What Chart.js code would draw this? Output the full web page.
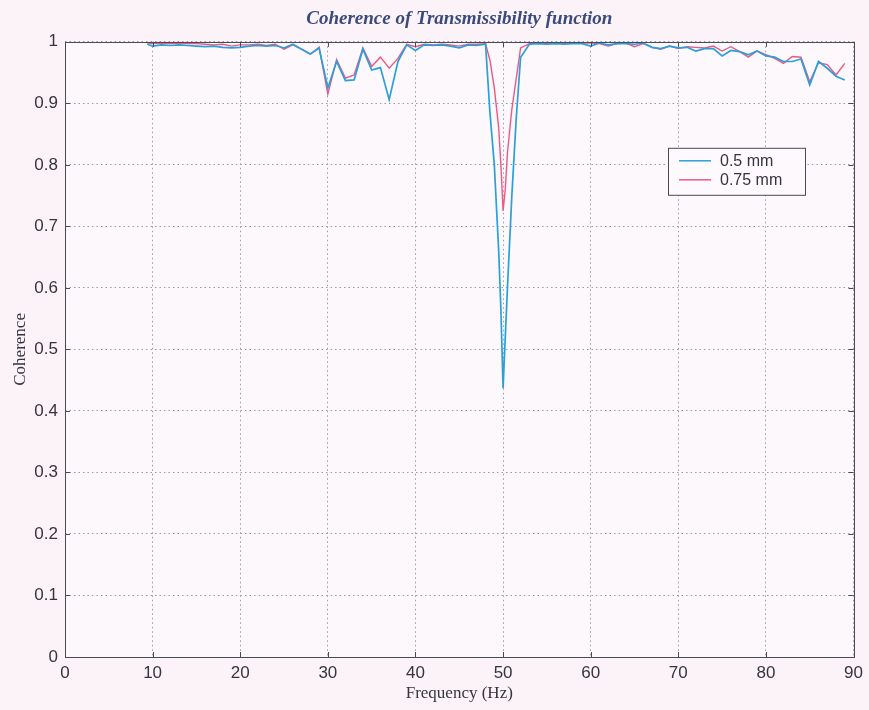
<!DOCTYPE html>
<html>
<head>
<meta charset="utf-8">
<script src="https://cdn.jsdelivr.net/npm/chart.js@4.4.1/dist/chart.umd.min.js"></script>
<style>
  html, body { margin: 0; padding: 0; background: #fbf3f8; }
  #wrap { width: 869px; height: 710px; }
</style>
</head>
<body>
<div id="wrap"><canvas id="c" width="869" height="710"></canvas></div>
<script>
// ---- Data ----
const chartTitle = 'Coherence of Transmissibility function';
const xTitle = 'Frequency (Hz)';
const yTitle = 'Coherence';
const seriesNames = ['0.5 mm', '0.75 mm'];

const freq = [9.4, 10, 11, 12, 13, 14, 15, 16, 17, 18, 19, 20, 21, 22, 23, 24, 25, 26, 27, 28, 29,
  30, 31, 32, 33, 34, 35, 36, 37, 38, 39, 40, 41, 42, 43, 44, 45, 46, 47, 48,
  48.5, 49, 49.5, 49.75, 50, 50.25, 50.5, 51, 51.5, 52,
  53, 54, 55, 56, 57, 58, 59, 60, 61, 62, 63, 64, 65, 66, 67, 68, 69, 70,
  71, 72, 73, 74, 75, 76, 77, 78, 79, 80, 81, 82, 83, 84, 85, 86, 87, 88, 89];

const coh05 = [0.996, 0.993, 0.995, 0.994, 0.995, 0.994, 0.993, 0.992, 0.993, 0.991, 0.990, 0.991, 0.993, 0.994, 0.993, 0.994, 0.990, 0.996, 0.988, 0.980, 0.990,
  0.925, 0.968, 0.937, 0.938, 0.988, 0.954, 0.958, 0.906, 0.968, 0.995, 0.986, 0.995, 0.994, 0.995, 0.993, 0.990, 0.995, 0.994, 0.996,
  0.885, 0.800, 0.660, 0.565, 0.437, 0.520, 0.600, 0.750, 0.875, 0.975,
  0.996, 0.997, 0.996, 0.997, 0.996, 0.997, 0.997, 0.993, 0.998, 0.995, 0.997, 0.997, 0.996, 0.998, 0.991, 0.989, 0.993, 0.990,
  0.991, 0.985, 0.989, 0.989, 0.977, 0.986, 0.984, 0.979, 0.985, 0.977, 0.975, 0.968, 0.968, 0.972, 0.930, 0.968, 0.957, 0.944, 0.938];

const coh075 = [0.998, 0.997, 0.998, 0.997, 0.998, 0.997, 0.997, 0.996, 0.995, 0.996, 0.993, 0.995, 0.995, 0.996, 0.994, 0.996, 0.988, 0.995, 0.988, 0.980, 0.991,
  0.915, 0.971, 0.941, 0.946, 0.990, 0.960, 0.975, 0.957, 0.973, 0.996, 0.992, 0.996, 0.995, 0.996, 0.995, 0.993, 0.996, 0.996, 0.997,
  0.970, 0.925, 0.860, 0.800, 0.725, 0.760, 0.820, 0.890, 0.940, 0.990,
  0.997, 0.998, 0.997, 0.998, 0.997, 0.998, 0.998, 0.998, 0.997, 0.993, 0.997, 0.998, 0.992, 0.997, 0.991, 0.988, 0.993, 0.989,
  0.992, 0.991, 0.990, 0.993, 0.985, 0.992, 0.984, 0.975, 0.985, 0.979, 0.973, 0.965, 0.976, 0.975, 0.935, 0.966, 0.963, 0.946, 0.965];

const xTicks = [0, 10, 20, 30, 40, 50, 60, 70, 80, 90];
const yTicks = [0, 0.1, 0.2, 0.3, 0.4, 0.5, 0.6, 0.7, 0.8, 0.9, 1];

// ---- Styling ----
const colors = ['#2b9fdc', '#ea5a82'];
const tickFont = { family: '"Liberation Sans", Arial, sans-serif', size: 17 };
const serifFont = '"Liberation Serif", "DejaVu Serif", serif';
const textColor = '#35353f';

const toPoints = (ys) => freq.map((f, i) => ({ x: f, y: ys[i] }));

const bgPlugin = {
  id: 'bg',
  beforeDraw(chart) {
    const { ctx, chartArea: a } = chart;
    ctx.save();
    ctx.fillStyle = '#fbf3f8';
    ctx.fillRect(0, 0, chart.width, chart.height);
    ctx.fillStyle = '#fdf8fc';
    ctx.fillRect(a.left, a.top, a.right - a.left, a.bottom - a.top);
    ctx.restore();
  }
};

const boxPlugin = {
  id: 'box',
  afterDatasetsDraw(chart) {
    const { ctx, chartArea: a, scales } = chart;
    ctx.save();
    ctx.strokeStyle = '#4a4a55';
    ctx.lineWidth = 1;
    ctx.beginPath();
    const tl = 5;
    xTicks.forEach(v => {
      const px = Math.round(scales.x.getPixelForValue(v)) + 0.5;
      ctx.moveTo(px, a.bottom); ctx.lineTo(px, a.bottom - tl);
      ctx.moveTo(px, a.top); ctx.lineTo(px, a.top + tl);
    });
    yTicks.forEach(v => {
      const py = Math.round(scales.y.getPixelForValue(v)) + 0.5;
      ctx.moveTo(a.left, py); ctx.lineTo(a.left + tl, py);
      ctx.moveTo(a.right, py); ctx.lineTo(a.right - tl, py);
    });
    ctx.stroke();
    ctx.strokeRect(Math.round(a.left) + 0.5, Math.round(a.top) + 0.5,
      Math.round(a.right - a.left), Math.round(a.bottom - a.top));
    ctx.restore();
  }
};

const legendPlugin = {
  id: 'boxLegend',
  afterDraw(chart) {
    const { ctx, chartArea: a } = chart;
    const x0 = a.left + 603, y0 = a.top + 106, w = 137, h = 47;
    ctx.save();
    ctx.fillStyle = '#fdf9fc';
    ctx.fillRect(x0, y0, w, h);
    ctx.strokeStyle = '#4a4a55';
    ctx.lineWidth = 1;
    ctx.strokeRect(x0 + 0.5, y0 + 0.5, w, h);
    ctx.font = '16px "Liberation Sans", Arial, sans-serif';
    ctx.textBaseline = 'middle';
    chart.data.datasets.forEach((ds, i) => {
      const yy = y0 + 13 + i * 19;
      ctx.strokeStyle = ds.borderColor;
      ctx.lineWidth = 1.5;
      ctx.beginPath();
      ctx.moveTo(x0 + 11, yy); ctx.lineTo(x0 + 43, yy);
      ctx.stroke();
      ctx.fillStyle = textColor;
      ctx.fillText(ds.label, x0 + 52, yy + 1);
    });
    ctx.restore();
  }
};

new Chart(document.getElementById('c'), {
  type: 'scatter',
  data: {
    datasets: [
      { label: seriesNames[0], data: toPoints(coh05), borderColor: colors[0], backgroundColor: colors[0],
        showLine: true, pointRadius: 0, borderWidth: 1.7, tension: 0 },
      { label: seriesNames[1], data: toPoints(coh075), borderColor: colors[1], backgroundColor: colors[1],
        showLine: true, pointRadius: 0, borderWidth: 1.4, tension: 0 }
    ]
  },
  options: {
    responsive: false,
    animation: false,
    devicePixelRatio: 1,
    layout: { padding: { left: 0, right: 12, top: 0, bottom: 0 } },
    plugins: {
      legend: { display: false },
      tooltip: { enabled: false },
      title: {
        display: true, text: chartTitle, color: '#3b4a7c', fullSize: false,
        font: { family: serifFont, size: 19, style: 'italic', weight: 'bold' },
        padding: { top: 8, bottom: 11 }
      }
    },
    scales: {
      x: {
        type: 'linear', min: 0, max: 90,
        afterBuildTicks: (s) => { s.ticks = xTicks.map(v => ({ value: v })); },
        afterFit: (s) => { s.height = 53; },
        ticks: { font: tickFont, color: textColor, padding: 6, maxRotation: 0,
          callback: (v) => String(v) },
        grid: { color: '#9a9aa6', drawTicks: false, lineWidth: 1 },
        border: { display: false, dash: [1.5, 3] },
        title: { display: true, text: xTitle, color: textColor,
          font: { family: serifFont, size: 17 }, padding: { top: 0, bottom: 6 } }
      },
      y: {
        type: 'linear', min: 0, max: 1,
        afterBuildTicks: (s) => { s.ticks = yTicks.map(v => ({ value: v })); },
        afterFit: (s) => { s.width = 65; },
        ticks: { font: tickFont, color: textColor, padding: 7,
          callback: (v) => String(+v.toFixed(1)) },
        grid: { color: '#9a9aa6', drawTicks: false, lineWidth: 1 },
        border: { display: false, dash: [1.5, 3] },
        title: { display: true, text: yTitle, color: textColor,
          font: { family: serifFont, size: 17 }, padding: { top: 10, bottom: 0 } }
      }
    }
  },
  plugins: [bgPlugin, boxPlugin, legendPlugin]
});
</script>
</body>
</html>
